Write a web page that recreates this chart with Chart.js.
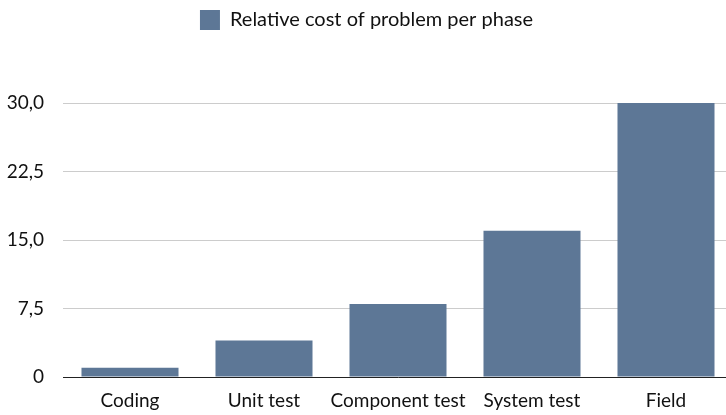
<!DOCTYPE html>
<html>
<head>
<meta charset="utf-8">
<script src="https://cdn.jsdelivr.net/npm/chart.js@4"></script>
<style>
html,body{margin:0;padding:0;background:#fff;overflow:hidden;}
#wrap{width:734px;height:415px;position:relative;}
</style>
</head>
<body>
<div id="wrap"><canvas id="c"></canvas></div>
<script>
const categories = ["Coding", "Unit test", "Component test", "System test", "Field"];
const seriesName = "Relative cost of problem per phase";
const values = [1, 4, 8, 16, 30];
const yTicks = [0, 7.5, 15, 22.5, 30];

const legendSpace = {
  id: 'legendSpace',
  beforeInit(chart) {
    const fit = chart.legend.fit;
    chart.legend.fit = function () { fit.bind(this)(); this.height = 103; };
  }
};

Chart.defaults.font.family = "Lato, 'Open Sans', sans-serif";
Chart.defaults.color = "#111";

new Chart(document.getElementById('c'), {
  type: 'bar',
  data: {
    labels: categories,
    datasets: [{
      label: seriesName,
      data: values,
      backgroundColor: '#5d7796',
      borderWidth: 0,
      categoryPercentage: 1,
      barPercentage: 0.724
    }]
  },
  options: {
    responsive: true,
    maintainAspectRatio: false,
    animation: false,
    layout: { padding: { top: 0, bottom: 0, left: 0, right: 1 } },
    plugins: {
      legend: {
        position: 'top',
        labels: {
          boxWidth: 20, boxHeight: 20, padding: 10,
          font: { size: 20 }, color: '#111'
        }
      },
      tooltip: { enabled: false }
    },
    scales: {
      x: {
        afterFit(scale) { scale.height = 38; },
        grid: { display: false, drawTicks: false },
        border: { display: true, color: '#222', width: 1 },
        ticks: { padding: 12, font: { size: 19 }, color: '#111', maxRotation: 0, autoSkip: false }
      },
      y: {
        min: 0, max: 30,
        afterBuildTicks(scale) { scale.ticks = yTicks.map(v => ({ value: v })); },
        afterFit(scale) { scale.width = 63; },
        grid: { color: '#cccccc', drawTicks: false, lineWidth: 1 },
        border: { display: false },
        ticks: {
          padding: 19, font: { size: 19 }, color: '#111',
          callback: v => v === 0 ? '0' : v.toFixed(1).replace('.', ',')
        }
      }
    }
  },
  plugins: [legendSpace]
});
</script>
</body>
</html>
